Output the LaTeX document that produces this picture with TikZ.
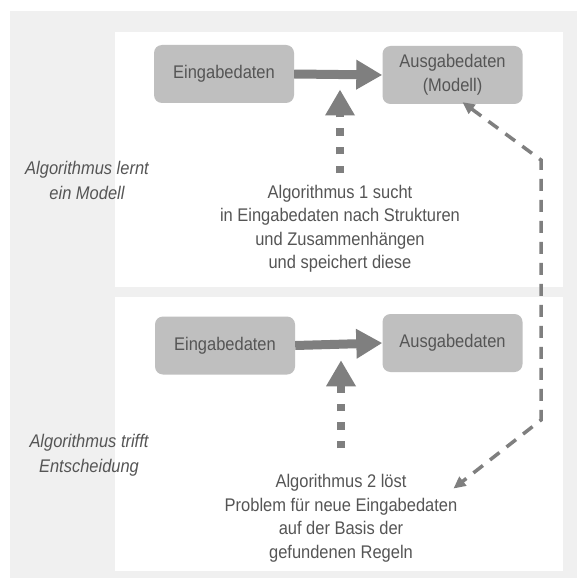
\documentclass[tikz,border=0pt]{standalone}
\usepackage{fontspec}
\setmainfont[FakeStretch=0.9]{Liberation Sans}
\usepackage{tikz}
\usetikzlibrary{arrows.meta,calc,positioning}

\definecolor{bggray}{HTML}{F0F0F0}
\definecolor{boxgray}{HTML}{BFBFBF}
\definecolor{arrgray}{HTML}{7F7F7F}
\definecolor{txtgray}{HTML}{555555}

\begin{document}
\begin{tikzpicture}[
	x=1pt, y=-1pt,
	every node/.style={
		text=txtgray, font=\fontsize{18.3}{23.5}\selectfont
	},
	databox/.style={
		fill=boxgray, rounded corners=8pt, align=center,
		minimum width=140pt, minimum height=58pt
	},
	note/.style={align=center, inner sep=2pt},
	sidelabel/.style={align=center, font=\fontsize{18.3}{25}\selectfont\itshape},
	bigarrow/.style={
		draw=arrgray, line width=9pt,
		-{Triangle[length=26pt,width=28pt]}
	},
	dotarrow/.style={
		draw=arrgray, line width=8pt,
		dash pattern=on 7.5pt off 11pt,
		-{Triangle[length=26pt,width=28pt]}
	},
	dasharrow/.style={
		draw=arrgray, line width=3.5pt,
		dash pattern=on 12pt off 9pt,
		{Triangle[length=12pt,width=11pt]}-{Triangle[length=12pt,width=11pt]}
	}
]
\useasboundingbox (0,0) rectangle (578,580);

% background and the two panels
\fill[bggray] (10,11) rectangle (577,578);
\fill[white] (115,32) rectangle (563,287);
\fill[white] (115,297) rectangle (563,571);

% top: learning
\node[databox] (in1) at (224,74) {Eingabedaten};
\node[databox] (out1) at (452.5,75) {Ausgabedaten\\(Modell)};
\node[note] (alg1) at (340,229)
	{Algorithmus 1 sucht\\in Eingabedaten nach Strukturen\\und Zusammenhängen\\und speichert diese};
\node[sidelabel] (lab1) at (87,180) {Algorithmus lernt\\ein Modell};

% bottom: decision
\node[databox] (in2) at (225,345.5) {Eingabedaten};
\node[databox] (out2) at (452.5,343) {Ausgabedaten};
\node[note] (alg2) at (341,518.5)
	{Algorithmus 2 löst\\Problem für neue Eingabedaten\\auf der Basis der\\gefundenen Regeln};
\node[sidelabel] (lab2) at (89,455) {Algorithmus trifft\\Entscheidung};

\coordinate (t1) at ($(in1.east)!0.5!(out1.west)+(0,15)$);
\coordinate (t2) at ($(in2.east)!0.5!(out2.west)+(0,16)$);
\coordinate (b1) at (541,160);
\coordinate (b2) at (541,420);

\draw[bigarrow] (in1.east) -- (out1.west);
\draw[bigarrow] (in2.east) -- (out2.west);
\draw[dotarrow] (alg1.north |- 0,173) -- (t1 -| alg1.north);
\draw[dotarrow] (alg2.north |- 0,448) -- (t2 -| alg2.north);

\draw[dasharrow] ([xshift=10pt,yshift=2pt]out1.south) -- (b1) -- (b2)
	-- ([xshift=-6pt,yshift=-16pt]alg2.north east);
\end{tikzpicture}
\end{document}
